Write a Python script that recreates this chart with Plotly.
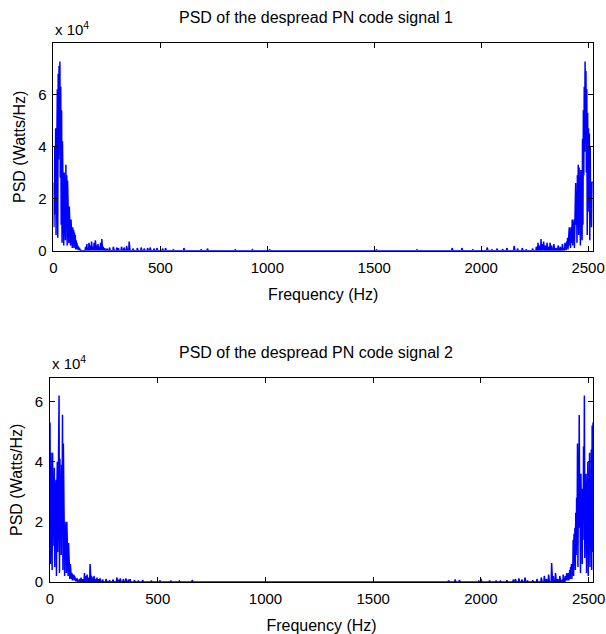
import numpy as np
import plotly.graph_objects as go
from plotly.subplots import make_subplots

# ---------------- data (PSD values in units of 1e4 Watts/Hz) ----------------
STEP_HZ = 2
LOW_START = 0
HIGH_START = 2392
MID_START = 130
MID_END = 2392

# signal 1
sig1_low = [2.6, 0.9, 2.3, 4.0, 1.4, 4.7, 0.6, 4.5, 2.2, 6.2, 0.5, 6.8, 3.5, 7.1, 4.4, 7.27,
            2.8, 6.3, 1.0, 5.4, 0.3, 4.2, 1.2, 2.9, 0.2, 3.0, 1.5, 2.4, 0.4, 3.3, 1.1, 2.9,
            0.2, 2.7, 0.8, 2.0, 0.3, 1.7, 0.6, 1.3, 0.2, 1.2, 0.4, 1.0, 0.1, 0.9, 0.3, 0.8,
            0.1, 0.7, 0.2, 0.6, 0.05, 0.4, 0.1, 0.3, 0.05, 0.2, 0.02, 0.15, 0.02, 0.1, 0.0, 0.05, 0.0]
sig1_high = [0.3, 0.05, 0.2, 0.02, 0.35, 0.1, 0.5, 0.05, 0.4, 0.15, 0.9, 0.2, 0.7, 0.1, 0.9, 0.3,
             0.8, 1.2, 0.2, 1.1, 0.4, 1.2, 0.1, 1.6, 0.5, 2.6, 1.0, 2.3, 0.3, 2.9, 1.2, 3.3,
             0.6, 3.2, 1.4, 2.8, 0.2, 3.1, 1.8, 2.5, 0.4, 4.3, 1.0, 5.4, 2.9, 6.3, 3.8, 7.27,
             4.4, 6.9, 3.0, 6.2, 0.6, 5.3, 1.5, 4.7, 2.1, 4.5, 0.4, 4.0, 1.3, 2.4, 0.9, 2.65, 2.6]
sig1_spike_freqs = [150, 156, 160, 166, 172, 178, 184, 190, 196, 202, 208, 214, 220, 226, 232, 240,
                    250, 262, 280, 296, 304, 318, 330, 342, 354, 372, 392, 410, 424, 440, 452, 470,
                    484, 510, 524, 560, 610, 690, 720, 850, 930, 1010, 1250, 1510, 1600, 1700,
                    1864, 1910, 1960, 2028, 2050, 2074, 2100, 2120, 2154, 2170, 2192, 2210, 2240,
                    2258, 2266, 2272, 2280, 2286, 2292, 2300, 2308, 2316, 2322, 2330, 2340, 2350,
                    2360, 2370, 2380, 2386]
sig1_spike_vals = [0.15, 0.25, 0.1, 0.3, 0.2, 0.35, 0.15, 0.3, 0.4, 0.2, 0.25, 0.15, 0.3, 0.45, 0.15, 0.1,
                   0.08, 0.12, 0.15, 0.12, 0.1, 0.15, 0.12, 0.18, 0.35, 0.08, 0.1, 0.12, 0.08, 0.1, 0.12, 0.08,
                   0.1, 0.08, 0.1, 0.05, 0.1, 0.05, 0.08, 0.05, 0.04, 0.03, 0.02, 0.03, 0.02, 0.03,
                   0.1, 0.1, 0.03, 0.12, 0.05, 0.08, 0.06, 0.1, 0.18, 0.08, 0.1, 0.05, 0.08,
                   0.15, 0.3, 0.2, 0.45, 0.25, 0.35, 0.2, 0.3, 0.15, 0.3, 0.2, 0.25, 0.1,
                   0.2, 0.15, 0.25, 0.1]

# signal 2
sig2_low = [5.3, 0.6, 4.3, 2.5, 3.3, 0.4, 4.3, 1.2, 3.2, 2.0, 3.8, 0.5, 3.3, 1.8, 3.4, 0.2,
            3.2, 4.0, 1.0, 4.45, 2.2, 6.2, 0.3, 4.1, 2.5, 3.6, 0.9, 3.9, 2.0, 5.56, 0.4, 4.6,
            1.6, 3.0, 0.2, 2.0, 0.8, 1.9, 0.3, 2.0, 0.6, 1.5, 0.2, 1.3, 0.4, 1.0, 0.1, 0.6,
            0.2, 0.4, 0.1, 0.3, 0.05, 0.2, 0.1, 0.25, 0.05, 0.2, 0.1, 0.15, 0.02, 0.1, 0.05, 0.12, 0.0]
sig2_high = [0.2, 0.05, 0.15, 0.3, 0.05, 0.25, 0.1, 0.3, 0.05, 0.2, 0.4, 0.1, 0.5, 0.2, 0.6, 0.1,
             0.5, 0.3, 1.4, 0.2, 1.6, 0.6, 1.8, 0.4, 2.3, 0.9, 2.8, 1.2, 4.6, 0.5, 3.0, 1.8,
             5.55, 2.6, 3.2, 0.3, 3.6, 2.0, 3.1, 0.6, 2.9, 1.4, 4.5, 2.2, 6.2, 0.8, 3.4, 1.6,
             3.6, 0.3, 3.3, 1.9, 4.0, 0.2, 3.2, 1.5, 4.3, 0.5, 2.5, 1.2, 4.4, 0.4, 5.2, 1.0, 5.3]
sig2_spike_freqs = [136, 144, 152, 160, 166, 172, 180, 186, 192, 198, 204, 210, 218, 226, 232, 244,
                    260, 276, 292, 310, 318, 326, 340, 352, 364, 372, 392, 410, 430, 470, 510, 560,
                    600, 660, 900, 1300, 1850, 1880, 1900, 1990, 2000, 2040, 2070, 2090, 2120, 2150,
                    2160, 2176, 2190, 2204, 2216, 2240, 2260, 2280, 2294, 2304, 2314, 2328, 2336,
                    2346, 2356, 2366, 2376, 2382]
sig2_spike_vals = [0.1, 0.15, 0.1, 0.3, 0.2, 0.25, 0.15, 0.6, 0.2, 0.15, 0.2, 0.1, 0.15, 0.1, 0.12, 0.08,
                   0.1, 0.06, 0.08, 0.15, 0.08, 0.12, 0.1, 0.12, 0.08, 0.1, 0.06, 0.05, 0.06, 0.04, 0.05, 0.04,
                   0.03, 0.06, 0.02, 0.02, 0.05, 0.08, 0.06, 0.03, 0.1, 0.05, 0.04, 0.03, 0.06, 0.08,
                   0.1, 0.12, 0.08, 0.15, 0.05, 0.06, 0.1, 0.15, 0.2, 0.1, 0.25, 0.63, 0.2,
                   0.3, 0.1, 0.2, 0.08, 0.25]

x_ticks = [0, 500, 1000, 1500, 2000, 2500]
y_ticks = [0, 2, 4, 6]
titles = ["PSD of the despread PN code signal 1", "PSD of the despread PN code signal 2"]
x_ranges = [[0, 2523], [0, 2520]]
y_ranges = [[0, 7.98], [0, 6.79]]


def build_series(low, high, spike_f, spike_v):
    f_low = [LOW_START + STEP_HZ * i for i in range(len(low))]
    f_mid = list(range(MID_START, MID_END, STEP_HZ))
    v_mid = [0.0] * len(f_mid)
    for f, v in zip(spike_f, spike_v):
        v_mid[(f - MID_START) // STEP_HZ] = v
    f_high = [HIGH_START + STEP_HZ * i for i in range(len(high))]
    return f_low + f_mid + f_high, list(low) + v_mid + list(high)


series = [build_series(sig1_low, sig1_high, sig1_spike_freqs, sig1_spike_vals),
          build_series(sig2_low, sig2_high, sig2_spike_freqs, sig2_spike_vals)]

FONT = "Liberation Sans, Arial, sans-serif"
TICK_SIZE = 15
LABEL_SIZE = 16
TITLE_SIZE = 16

W, H = 606, 634
ML, MT = 50, 43
PW, PH = 543, 539

fig = make_subplots(rows=2, cols=1)
for i, (fx, fy) in enumerate(series):
    fig.add_trace(go.Scatter(x=fx, y=fy, mode="lines",
                             line=dict(color="#0000FF", width=1.5),
                             showlegend=False, hoverinfo="skip"), row=i + 1, col=1)

axis_common = dict(showline=True, mirror="ticks", linecolor="black", linewidth=1,
                   ticks="inside", ticklen=5, tickcolor="black", tickwidth=1,
                   showgrid=False, zeroline=False, automargin=False,
                   ticklabeloverflow="allow",
                   tickfont=dict(family=FONT, size=TICK_SIZE, color="black"))
xt = dict(text="Frequency (Hz)", standoff=14, font=dict(family=FONT, size=LABEL_SIZE, color="black"))
yt = dict(text="PSD (Watts/Hz)", standoff=8, font=dict(family=FONT, size=LABEL_SIZE, color="black"))

fig.update_layout(
    width=W, height=H,
    margin=dict(l=ML, r=W - ML - PW, t=MT, b=H - MT - PH, autoexpand=False),
    paper_bgcolor="white", plot_bgcolor="white",
    font=dict(family=FONT, size=TICK_SIZE, color="black"),
    xaxis=dict(domain=[0.0064, 1.0], range=x_ranges[0], tickvals=x_ticks, title=xt,
               ticklabelstandoff=3, **axis_common),
    yaxis=dict(domain=[0.6147, 1.0], range=y_ranges[0], tickvals=y_ticks, title=yt,
               ticklabelstandoff=3, **axis_common),
    xaxis2=dict(domain=[0.0, 1.0], range=x_ranges[1], tickvals=x_ticks, title=xt,
                ticklabelstandoff=3, **axis_common),
    yaxis2=dict(domain=[0.0, 0.379], range=y_ranges[1], tickvals=y_ticks, title=yt,
                ticklabelstandoff=3, **axis_common),
)

# titles and exponent labels (positions in window pixels)
title_y = [18, 352]
exp_y = [29, 362]
exp_x = [53, 50]
for i in range(2):
    fig.add_annotation(text=titles[i], xref="paper", yref="paper",
                       x=0.49, y=1 - (title_y[i] - MT) / PH, xanchor="center", yanchor="middle",
                       showarrow=False, font=dict(family=FONT, size=TITLE_SIZE, color="black"))
    fig.add_annotation(text="x 10<sup>4</sup>", xref="paper", yref="paper",
                       x=(exp_x[i] - ML) / PW, y=1 - (exp_y[i] - MT) / PH,
                       xanchor="left", yanchor="middle",
                       showarrow=False, font=dict(family=FONT, size=TICK_SIZE, color="black"))

# remove the default page margin so the figure fills the window exactly
fig.write_html("out.html",
               config={"displayModeBar": False},
               post_script="document.body.style.margin='0';document.body.style.overflow='hidden';")
